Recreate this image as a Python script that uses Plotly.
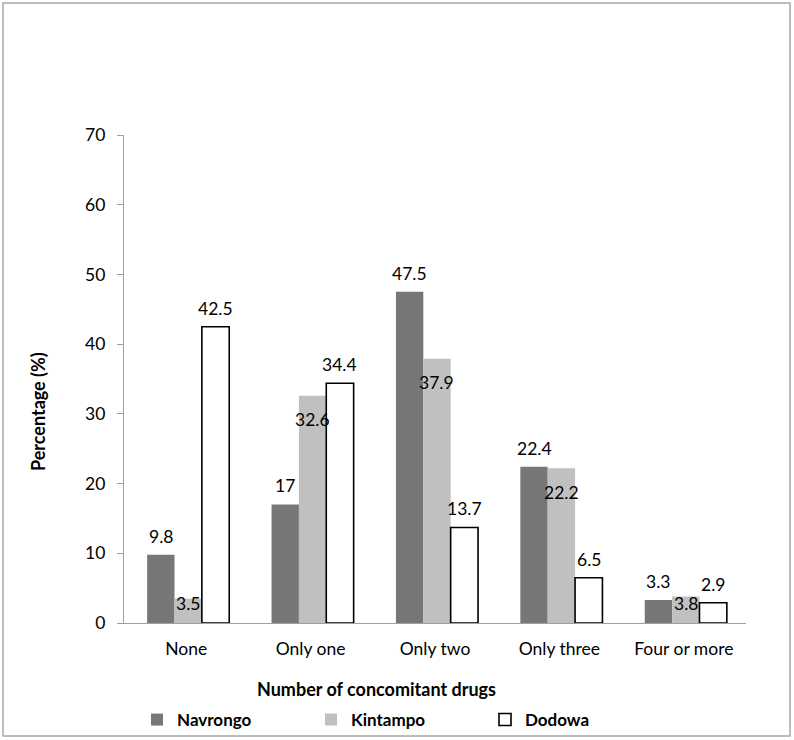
import plotly.graph_objects as go

categories = ["None", "Only one", "Only two", "Only three", "Four or more"]
navrongo = [9.8, 17, 47.5, 22.4, 3.3]
kintampo = [3.5, 32.6, 37.9, 22.2, 3.8]
dodowa = [42.5, 34.4, 13.7, 6.5, 2.9]
series_names = ["Navrongo", "Kintampo", "Dodowa"]
y_ticks = [0, 10, 20, 30, 40, 50, 60, 70]

W, H = 794, 740
ML, MR, MT, MB = 124, 48, 135, 117
plot_w = W - ML - MR
plot_h = H - MT - MB
YMAX = 70
px_per_unit = plot_h / YMAX


def px_x(px):
    return (px - ML) / plot_w


def px_y(py):
    return (H - MB - py) / plot_h


FONT = "Lato, 'Open Sans', sans-serif"
LBL = 17.5
bar_w = 0.22
offsets = [-0.314, -0.094, 0.126]
fills = ["#777777", "#c0c0c0", "#ffffff"]
lines = [0, 0, 1.6]

fig = go.Figure()
for name, vals, off, fc, lw in zip(series_names, [navrongo, kintampo, dodowa], offsets, fills, lines):
    fig.add_trace(go.Bar(
        x=categories, y=vals, name=name, width=bar_w, offset=off,
        marker=dict(color=fc, line=dict(color="#000000", width=lw)),
    ))

annotations = []
# Navrongo and Dodowa labels above bars
for vals, off in [(navrongo, offsets[0]), (dodowa, offsets[2])]:
    for i, v in enumerate(vals):
        annotations.append(dict(x=i + off + bar_w / 2, y=v, xref="x", yref="y",
                                text=str(v), showarrow=False, yanchor="bottom", yshift=6,
                                font=dict(family=FONT, size=LBL, color="#000")))
# Kintampo labels sit inside, below the bar top
for i, v in enumerate(kintampo):
    ylab = max(v - 24 / px_per_unit, 20 / px_per_unit)
    annotations.append(dict(x=i + offsets[1] + bar_w / 2, y=ylab, xref="x", yref="y",
                            text=str(v), showarrow=False, yanchor="middle",
                            font=dict(family=FONT, size=LBL, color="#000")))

annotations.append(dict(x=px_x(38), y=px_y(412), xref="paper", yref="paper",
                        xanchor="center", yanchor="middle",
                        text="<b>Percentage (%)</b>", textangle=-90, showarrow=False,
                        font=dict(family=FONT, size=18, color="#000")))
annotations.append(dict(x=px_x(376.5), y=px_y(689), xref="paper", yref="paper",
                        xanchor="center", yanchor="middle",
                        text="<b>Number of concomitant drugs</b>", showarrow=False,
                        font=dict(family=FONT, size=18, color="#000")))

fig.update_layout(
    width=W, height=H,
    margin=dict(l=ML, r=MR, t=MT, b=MB, pad=0, autoexpand=False),
    paper_bgcolor="white", plot_bgcolor="white",
    barmode="group",
    showlegend=True,
    legend=dict(orientation="h", xref="container", yref="container",
                x=137 / W, xanchor="left",
                y=(H - 720) / H, yanchor="middle",
                entrywidth=129, entrywidthmode="pixels", itemwidth=30,
                font=dict(family=FONT, size=17, color="#000", weight="bold"),
                traceorder="normal", bgcolor="rgba(0,0,0,0)"),
    font=dict(family=FONT, size=LBL, color="#000"),
    annotations=annotations,
    shapes=[dict(type="rect", xref="paper", yref="paper",
                 x0=px_x(3), x1=px_x(790),
                 y0=px_y(736), y1=px_y(3),
                 line=dict(color="#a8a8a8", width=1.5))],
)
fig.update_xaxes(showline=True, linecolor="#a0a0a0", linewidth=1.2, ticks="",
                 ticklabelstandoff=10, tickfont=dict(family=FONT, size=LBL, color="#000"),
                 showgrid=False, range=[-0.5, 4.5], automargin=False)
fig.update_yaxes(range=[0, YMAX], tickvals=y_ticks, showline=True, linecolor="#a0a0a0",
                 linewidth=1.2, ticks="outside", ticklen=6, tickcolor="#a0a0a0",
                 showgrid=False, zeroline=False, ticklabelstandoff=8, automargin=False,
                 tickfont=dict(family=FONT, size=LBL, color="#000"))

fig.write_html("out.html", config={"displayModeBar": False},
               post_script="document.body.style.margin='0';")
